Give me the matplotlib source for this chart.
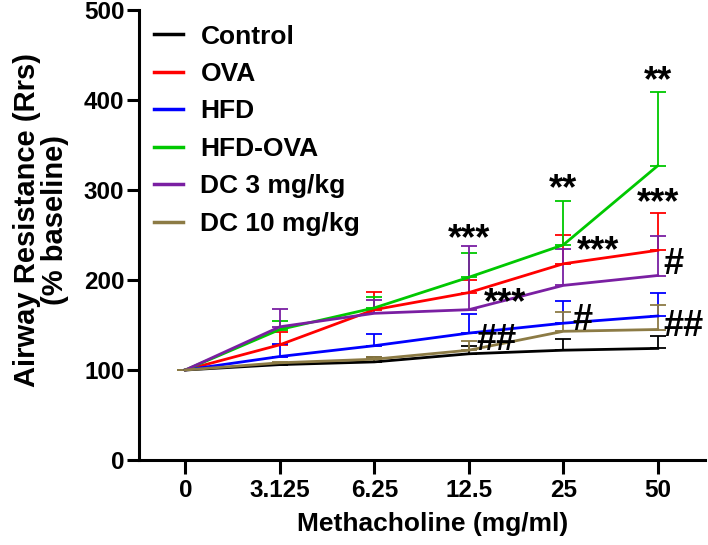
import numpy as np
import matplotlib.pyplot as plt

plt.rcParams['font.family'] = ['Liberation Sans', 'DejaVu Sans']
plt.rcParams['font.weight'] = 'bold'

doses = ['0', '3.125', '6.25', '12.5', '25', '50']
groups = ['Control', 'OVA', 'HFD', 'HFD-OVA', 'DC 3 mg/kg', 'DC 10 mg/kg']
colors = ['#000000', '#FF0000', '#0000FF', '#00C800', '#7A1FA2', '#8C7B45']

# mean and upper error bar top, % baseline
control = [100, 106, 109, 118, 122, 124]
control_top = [100, 108, 114, 127, 134, 138]
ova = [100, 128, 167, 186, 218, 233]
ova_top = [100, 142, 187, 200, 250, 274]
hfd = [100, 115, 127, 141, 152, 160]
hfd_top = [100, 129, 140, 162, 177, 186]
hfd_ova = [100, 145, 169, 203, 239, 327]
hfd_ova_top = [100, 154, 181, 230, 288, 409]
dc3 = [100, 148, 163, 167, 194, 205]
dc3_top = [100, 168, 178, 238, 234, 249]
dc10 = [100, 108, 112, 122, 143, 145]
dc10_top = [100, 109, 115, 132, 165, 172]

means = [control, ova, hfd, hfd_ova, dc3, dc10]
tops = [control_top, ova_top, hfd_top, hfd_ova_top, dc3_top, dc10_top]

# significance marks: (dose index, value, text, x offset)
marks = [
    (3, 245, '***', 0.0), (3, 174, '***', 0.38), (3, 133, '##', 0.29),
    (4, 300, '**', 0.0), (4, 232, '***', 0.37), (4, 155, '#', 0.2),
    (5, 420, '**', 0.0), (5, 285, '***', 0.0), (5, 217, '#', 0.17), (5, 148, '##', 0.27),
]

fig = plt.figure(figsize=(7.08, 5.45), dpi=100)
ax = fig.add_axes([139 / 708, 1 - 460 / 545, (705 - 139) / 708, 450 / 545])

x = np.arange(len(doses))
for m, t, c, g in zip(means, tops, colors, groups):
    m = np.array(m, dtype=float)
    err = np.array(t, dtype=float) - m
    ax.errorbar(x, m, yerr=[np.zeros_like(err), err], color=c, lw=2.0,
                elinewidth=1.3, capsize=6, capthick=1.3, label=g)

for i, v, s, dx in marks:
    ax.text(x[i] + dx, v, s, ha='center', va='center', fontsize=26, fontweight='bold')

ax.set_xlim(-0.49, 5.5)
ax.set_ylim(0, 500)
ax.set_xticks(x)
ax.set_xticklabels(doses)
ax.set_yticks([0, 100, 200, 300, 400, 500])
ax.tick_params(axis='both', labelsize=17.5, width=2.2, direction='out')
ax.tick_params(axis='y', length=9, pad=1.5)
ax.tick_params(axis='x', length=10, pad=4)
for lab in ax.get_xticklabels() + ax.get_yticklabels():
    lab.set_fontweight('bold')
for s in ['top', 'right']:
    ax.spines[s].set_visible(False)
for s in ['left', 'bottom']:
    ax.spines[s].set_linewidth(2.2)

fig.text(433 / 708, 1 - 524 / 545, 'Methacholine (mg/ml)', ha='center', va='center',
         fontsize=19, fontweight='bold')
fig.text(41 / 708, 1 - 220 / 545, 'Airway Resistance (Rrs)\n(% baseline)', ha='center',
         va='center', rotation=90, multialignment='center', linespacing=1.0,
         fontsize=21, fontweight='semibold')

handles = [plt.Line2D([], [], color=c, lw=2.5) for c in colors]
ax.legend(handles, groups, loc='upper left', bbox_to_anchor=(0.0, 1.0), frameon=False,
          prop={'weight': 'bold', 'size': 19}, handlelength=1.1, handletextpad=0.68,
          labelspacing=0.51, borderaxespad=0.15)

fig.savefig('out.png', dpi=100)
